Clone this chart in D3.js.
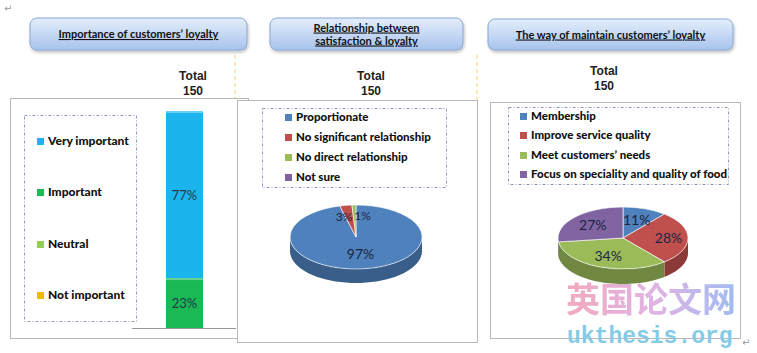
<!DOCTYPE html>
<html>
<head>
<meta charset="utf-8">
<script src="https://cdn.jsdelivr.net/npm/d3@7"></script>
<style>
  body { margin: 0; background: #fff; }
  svg { display: block; }
</style>
</head>
<body>
<div id="chart"></div>
<script>
// ---- data ----
var titles = ["Importance of customers\u2019 loyalty", "Relationship between|satisfaction & loyalty", "The way of maintain customers\u2019 loyalty"];
var totalLabel = "Total";
var totals = [150, 150, 150];

var importanceCats = ["Very important", "Important", "Neutral", "Not important"];
var importanceVals = [77, 23, 0, 0];
var importanceColors = ["#1cb4ec", "#19b954", "#92cf4f", "#f2b800"];

var relationCats = ["Proportionate", "No significant relationship", "No direct relationship", "Not sure"];
var relationVals = [97, 3, 1, 0];

var maintainCats = ["Membership", "Improve service quality", "Meet customers\u2019 needs", "Focus on speciality and quality of food"];
var maintainVals = [11, 28, 34, 27];

var pieColors = ["#4f81bd", "#c0504d", "#9bbb59", "#8064a2"];

var W = 757, H = 353;

var svg = d3.select("#chart").append("svg")
    .attr("width", W)
    .attr("height", H);

var defs = svg.append("defs");

var tg = defs.append("linearGradient").attr("id", "titleGrad")
    .attr("x1", 0).attr("y1", 0).attr("x2", 0).attr("y2", 1);
tg.append("stop").attr("offset", "0%").attr("stop-color", "#e4eefb");
tg.append("stop").attr("offset", "100%").attr("stop-color", "#a8c3ec");

var sh = defs.append("filter").attr("id", "shadow")
    .attr("x", "-10%").attr("y", "-10%").attr("width", "130%").attr("height", "150%");
sh.append("feDropShadow").attr("dx", 1).attr("dy", 2).attr("stdDeviation", 1.5)
    .attr("flood-color", "#000").attr("flood-opacity", 0.25);

var wg = defs.append("linearGradient").attr("id", "wmGrad")
    .attr("x1", 0).attr("y1", 0).attr("x2", 1).attr("y2", 0);
wg.append("stop").attr("offset", "0%").attr("stop-color", "#f19bb3");
wg.append("stop").attr("offset", "55%").attr("stop-color", "#d9a8e2");
wg.append("stop").attr("offset", "100%").attr("stop-color", "#8fb0f0");

// word paragraph marks
svg.append("text").attr("x", 4).attr("y", 12).attr("fill", "#999")
    .attr("font-size", 10).attr("font-family", "DejaVu Sans").text("\u21b5");

// yellow dashed guides
svg.append("line").attr("x1", 235).attr("x2", 235).attr("y1", 55).attr("y2", 342)
    .attr("stroke", "#f0d36a").attr("stroke-width", 1).attr("stroke-dasharray", "4,3");
svg.append("line").attr("x1", 477).attr("x2", 477).attr("y1", 55).attr("y2", 100)
    .attr("stroke", "#f0d36a").attr("stroke-width", 1).attr("stroke-dasharray", "4,3");

// ---- panel frames ----
var panels = [
    {box: [10, 98, 238, 240], title: [30, 18, 217, 32], total: [193, 80]},
    {box: [237, 100, 240, 242], title: [270, 18, 193, 32], total: [371, 80]},
    {box: [490, 102, 250, 236], title: [488, 19, 245, 31], total: [604, 75]}
];

panels.forEach(function(p, i) {
    svg.append("rect")
        .attr("x", p.box[0] + 0.5).attr("y", p.box[1] + 0.5)
        .attr("width", p.box[2]).attr("height", p.box[3])
        .attr("fill", "#fff").attr("stroke", "#b8b8b8");

    svg.append("rect")
        .attr("x", p.title[0]).attr("y", p.title[1])
        .attr("width", p.title[2]).attr("height", p.title[3])
        .attr("rx", 7)
        .attr("fill", "url(#titleGrad)")
        .attr("stroke", "#88a6d6")
        .attr("filter", "url(#shadow)");

    var lines = titles[i].split("|");
    var cx = p.title[0] + p.title[2] / 2;
    var cy = p.title[1] + p.title[3] / 2;
    lines.forEach(function(l, j) {
        svg.append("text")
            .attr("x", cx)
            .attr("y", cy + 4 + (j - (lines.length - 1) / 2) * 13)
            .attr("text-anchor", "middle")
            .attr("font-family", "Lato, 'Open Sans', sans-serif")
            .attr("font-weight", "bold")
            .attr("font-size", 11)
            .attr("text-decoration", "underline")
            .attr("fill", "#111")
            .text(l);
    });

    svg.append("text").attr("x", p.total[0]).attr("y", p.total[1])
        .attr("text-anchor", "middle")
        .attr("font-family", "'Liberation Sans', Arial, sans-serif")
        .attr("font-weight", "bold").attr("font-size", 12).attr("fill", "#222")
        .text(totalLabel);
    svg.append("text").attr("x", p.total[0]).attr("y", p.total[1] + 15)
        .attr("text-anchor", "middle")
        .attr("font-family", "'Liberation Sans', Arial, sans-serif")
        .attr("font-weight", "bold").attr("font-size", 12).attr("fill", "#222")
        .text(totals[i]);
});

// ---- legends ----
function legend(box, cats, colors, ys, mx, fontSize) {
    svg.append("rect")
        .attr("x", box[0] + 0.5).attr("y", box[1] + 0.5)
        .attr("width", box[2]).attr("height", box[3])
        .attr("fill", "none").attr("stroke", "#8a9ab8")
        .attr("stroke-dasharray", "3,2,1,2");
    cats.forEach(function(c, i) {
        svg.append("rect")
            .attr("x", mx).attr("y", ys[i] - 7)
            .attr("width", 7).attr("height", 7)
            .attr("fill", colors[i]);
        svg.append("text")
            .attr("x", mx + 11).attr("y", ys[i])
            .attr("font-family", "Lato, 'Open Sans', sans-serif")
            .attr("font-weight", 900)
            .attr("font-size", fontSize)
            .attr("fill", "#111")
            .text(c);
    });
}

legend([24, 115, 112, 206], importanceCats, importanceColors, [145, 196, 248, 299], 37, 12);
legend([262, 108, 184, 79], relationCats, pieColors, [121, 141, 161, 181], 285, 11.5);
legend([508, 107, 220, 77], maintainCats, pieColors, [120, 139, 159, 178], 520, 11.5);

// ---- stacked bar (panel 1) ----
var y = d3.scaleLinear().domain([0, 100]).range([328, 111]);
var barX = 166, barW = 37;

var order = [3, 2, 1, 0]; // bottom to top
var acc = 0;
order.forEach(function(k) {
    var v = importanceVals[k];
    if (v <= 0) return;
    var y0 = y(acc + v), y1 = y(acc);
    svg.append("rect")
        .attr("x", barX).attr("y", y0)
        .attr("width", barW).attr("height", y1 - y0)
        .attr("fill", importanceColors[k]);
    svg.append("rect")
        .attr("x", barX).attr("y", y0)
        .attr("width", barW).attr("height", 2)
        .attr("fill", "#fff").attr("opacity", 0.35);
    svg.append("text")
        .attr("x", barX + barW / 2).attr("y", (y0 + y1) / 2 + 5)
        .attr("text-anchor", "middle")
        .attr("font-family", "Lato, 'Open Sans', sans-serif")
        .attr("font-size", 13)
        .attr("fill", "#1d3b4a")
        .text(v + "%");
    acc += v;
});

svg.append("line")
    .attr("x1", 132).attr("x2", 236)
    .attr("y1", 328.5).attr("y2", 328.5)
    .attr("stroke", "#999");

// ---- 3D pies ----
function pie3d(cx, cy, rx, ry, depth, vals, colors, labelR, labelDx, labelSize) {
    var arcs = d3.pie().sort(null).value(function(d) { return d; })(vals);
    var g = svg.append("g");

    function pt(a, dy) {
        return [cx + rx * Math.sin(a), cy - ry * Math.cos(a) + (dy || 0)];
    }

    // sides: visible front half (pi/2 .. 3pi/2)
    arcs.forEach(function(d, i) {
        var a0 = Math.max(d.startAngle, Math.PI / 2);
        var a1 = Math.min(d.endAngle, 3 * Math.PI / 2);
        if (a1 <= a0) return;
        var n = 40, top = [], bot = [];
        for (var k = 0; k <= n; k++) {
            var a = a0 + (a1 - a0) * k / n;
            top.push(pt(a));
            bot.push(pt(a, depth));
        }
        var path = "M" + top.map(function(p) { return p.join(","); }).join("L") +
            "L" + bot.reverse().map(function(p) { return p.join(","); }).join("L") + "Z";
        var c = d3.color(colors[i]).darker(0.9);
        g.append("path").attr("d", path).attr("fill", c);
    });

    // top face
    var arc = d3.arc().innerRadius(0).outerRadius(1);
    var top = g.append("g")
        .attr("transform", "translate(" + cx + "," + cy + ") scale(" + rx + "," + ry + ")");
    arcs.forEach(function(d, i) {
        if (d.value <= 0) return;
        top.append("path")
            .attr("d", arc(d))
            .attr("fill", colors[i])
            .attr("stroke", "#fff")
            .attr("stroke-width", 0.4 / ry);
    });

    // labels
    arcs.forEach(function(d, i) {
        if (d.value <= 0) return;
        var m = (d.startAngle + d.endAngle) / 2;
        var r = labelR[i];
        g.append("text")
            .attr("x", cx + rx * r * Math.sin(m) + labelDx[i])
            .attr("y", cy - ry * r * Math.cos(m) + 5)
            .attr("text-anchor", "middle")
            .attr("font-family", "Lato, 'Open Sans', sans-serif")
            .attr("font-size", labelSize[i])
            .attr("fill", "#1c2540")
            .text(vals[i] + "%");
    });
}

pie3d(356, 237, 66, 32, 14, relationVals, pieColors,
    [0.55, 0.68, 0.7, 0.7], [0, -5, 8, 0], [14, 12, 12, 12]);
pie3d(623, 238, 65, 31, 15, maintainVals, pieColors,
    [0.62, 0.7, 0.62, 0.62], [0, 0, 0, 0], [14, 14, 14, 14]);

// ---- watermark ----
svg.append("text")
    .attr("x", 566).attr("y", 312)
    .attr("font-family", "'Noto Sans CJK SC', sans-serif")
    .attr("font-weight", "bold")
    .attr("font-size", 34)
    .attr("fill", "url(#wmGrad)")
    .attr("opacity", 0.85)
    .text("\u82f1\u56fd\u8bba\u6587\u7f51");
svg.append("text")
    .attr("x", 567).attr("y", 343)
    .attr("font-family", "'Liberation Mono', 'DejaVu Sans Mono', monospace")
    .attr("font-weight", "bold")
    .attr("font-size", 23)
    .attr("fill", "#86cbe6")
    .text("ukthesis.org");

svg.append("text").attr("x", 742).attr("y", 346).attr("fill", "#999")
    .attr("font-size", 10).attr("font-family", "DejaVu Sans").text("\u21b5");
</script>
</body>
</html>
